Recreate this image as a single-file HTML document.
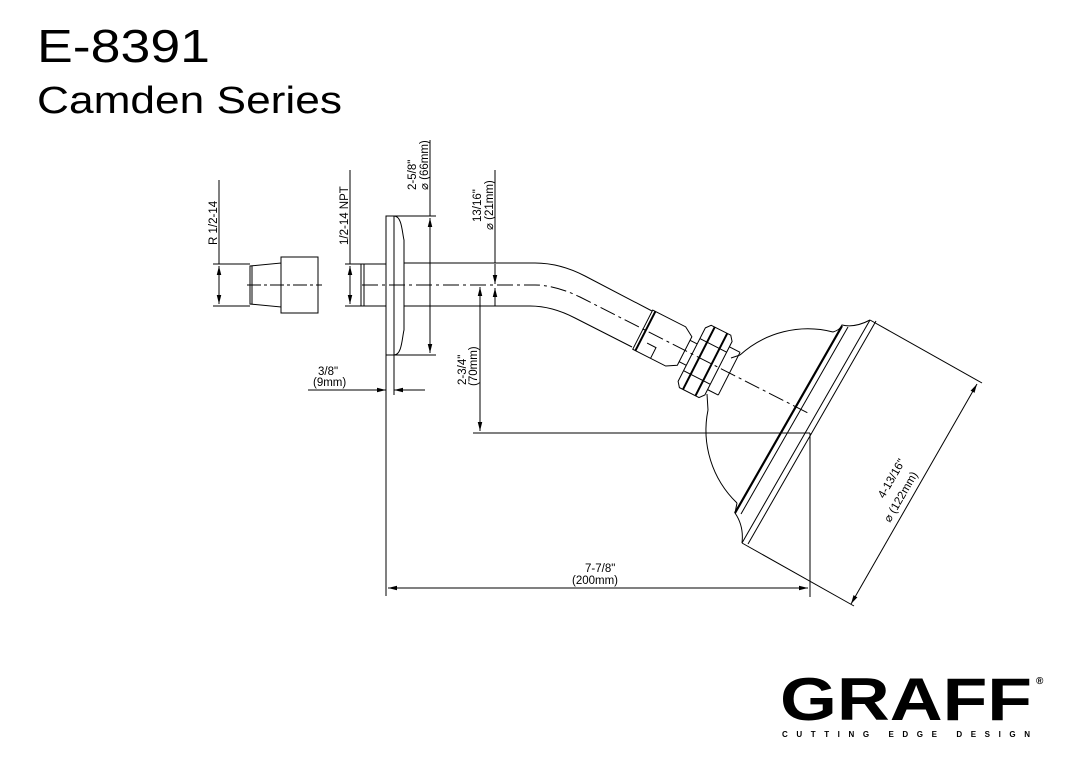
<!DOCTYPE html>
<html><head><meta charset="utf-8"><style>
html,body{margin:0;padding:0;background:#fff;}
svg{display:block;}
text{font-family:"Liberation Sans",sans-serif;fill:#000;}
</style></head><body>
<svg width="1075" height="761" viewBox="0 0 1075 761" xmlns="http://www.w3.org/2000/svg">
<defs>
<marker id="a" viewBox="0 0 10 10" refX="10" refY="5" markerWidth="9" markerHeight="9" orient="auto-start-reverse" markerUnits="userSpaceOnUse"><path d="M0,2.5 L10,5 L0,7.5z" fill="#000"/></marker>
</defs>
<text x="37" y="62" font-size="46" textLength="173" lengthAdjust="spacingAndGlyphs">E-8391</text>
<text x="37" y="113" font-size="38" textLength="305" lengthAdjust="spacingAndGlyphs">Camden Series</text>

<g stroke="#000" stroke-width="1" fill="none">
<line x1="213" y1="264" x2="250" y2="264"/><line x1="213" y1="306" x2="250" y2="306"/>
<line x1="219" y1="180" x2="219" y2="264"/>
<line x1="219" y1="266" x2="219" y2="304" marker-start="url(#a)" marker-end="url(#a)"/>
<path d="M250,266 L281,263 L281,307 L250,304 Z"/>
<line x1="252" y1="266" x2="252" y2="304"/>
<rect x="281" y="257" width="37" height="56"/>
<line x1="247" y1="285" x2="322" y2="285" stroke-dasharray="14,3,3,3"/>

<line x1="345" y1="264" x2="362" y2="264"/><line x1="345" y1="306" x2="362" y2="306"/>
<line x1="350" y1="170" x2="350" y2="264"/>
<line x1="350" y1="266" x2="350" y2="304" marker-start="url(#a)" marker-end="url(#a)"/>
<rect x="361" y="264" width="25" height="42"/>
<line x1="364" y1="264" x2="364" y2="306"/>
<rect x="386" y="216" width="8" height="139"/>
<path d="M394,216 C402,216 402,232 404,240 L404,330 C402,338 402,355 394,355"/>
<line x1="394" y1="216" x2="436" y2="216"/><line x1="394" y1="355" x2="436" y2="355"/>
<line x1="430" y1="140" x2="430" y2="216"/>
<line x1="430" y1="218" x2="430" y2="353" marker-start="url(#a)" marker-end="url(#a)"/>

<line x1="386" y1="355" x2="386" y2="596"/><line x1="394" y1="355" x2="394" y2="395"/>
<line x1="308" y1="390" x2="386" y2="390" marker-end="url(#a)"/>
<line x1="425" y1="390" x2="394" y2="390" marker-end="url(#a)"/>

<path d="M404,263 L535,263 Q560,263 585,276 L652,311"/>
<path d="M404,306 L530,306 Q552,306 575,318 L632,347"/>
<path d="M362,285 L535,285 Q555,285 580,297 L810,414" stroke-dasharray="16,4,3,4"/>

<line x1="495" y1="170" x2="495" y2="263"/>
<line x1="495" y1="264" x2="495" y2="284" marker-end="url(#a)"/>
<line x1="495" y1="288" x2="495" y2="306" marker-start="url(#a)"/>

<line x1="480" y1="287" x2="480" y2="431" marker-start="url(#a)" marker-end="url(#a)"/>
<line x1="473" y1="433" x2="810" y2="433"/>
<line x1="810" y1="433" x2="810" y2="597"/>

<line x1="388" y1="588" x2="808" y2="588" marker-start="url(#a)" marker-end="url(#a)"/>

<g transform="translate(665,341) rotate(27)">
<path d="M-25,-22 L12,-22 L22,-16 L22,16 L12,22 L-25,22 Z"/>
<line x1="-22" y1="-22" x2="-22" y2="22" stroke-width="2"/>
<path d="M-15,10 L-5,10 L-5,22"/>
<line x1="22" y1="-12" x2="30" y2="-12"/><line x1="22" y1="12" x2="30" y2="12"/>
<path d="M30,-30 L34,-35 L56,-35 L60,-30 L60,30 L56,35 L34,35 L30,30 Z"/>
<line x1="30" y1="-18" x2="60" y2="-18"/><line x1="30" y1="18" x2="60" y2="18"/>
<line x1="38" y1="-35" x2="38" y2="35" stroke-width="2"/>
<line x1="52" y1="-35" x2="52" y2="35" stroke-width="2"/>
<line x1="60" y1="-24" x2="72" y2="-24"/><line x1="60" y1="24" x2="72" y2="24"/>
<line x1="72" y1="-24" x2="72" y2="24"/>
</g>
<line x1="731" y1="358" x2="740" y2="355"/>
<line x1="707" y1="394" x2="708" y2="410"/>

<path d="M740,355 A101,101 0 0 1 833,332"/>
<path d="M708,410 A101,101 0 0 0 737,503"/>
<path d="M833,332 Q840,330 842,325 Q855,328 870,320"/>
<path d="M737,503 Q736,508 735,513 Q744,526 742,543"/>
<line x1="842" y1="326" x2="735" y2="513" stroke-width="2.2"/>
<line x1="848" y1="327" x2="741" y2="514"/>
<line x1="870" y1="320" x2="742" y2="543"/>
<line x1="876" y1="321" x2="748" y2="544"/>
<line x1="870" y1="320" x2="982" y2="383"/>
<line x1="742" y1="543" x2="854" y2="606"/>
<line x1="977" y1="384" x2="851" y2="604" marker-start="url(#a)" marker-end="url(#a)"/>
</g>

<g font-size="11.5">
<text transform="translate(217,245) rotate(-90)">R 1/2-14</text>
<text transform="translate(348,245) rotate(-90)">1/2-14 NPT</text>
<text transform="translate(416,190) rotate(-90)">2-5/8"</text>
<text transform="translate(428,190) rotate(-90)">⌀ (66mm)</text>
<text transform="translate(481,222) rotate(-90)">13/16"</text>
<text transform="translate(493,230) rotate(-90)">⌀ (21mm)</text>
<text transform="translate(466,385) rotate(-90)">2-3/4"</text>
<text transform="translate(477,386) rotate(-90)">(70mm)</text>
<text x="318" y="375">3/8"</text>
<text x="313" y="386">(9mm)</text>
<text x="585" y="572">7-7/8"</text>
<text x="572" y="584">(200mm)</text>
<text transform="translate(884,499) rotate(-60)">4-13/16"</text>
<text transform="translate(890,523) rotate(-60)">⌀ (122mm)</text>
</g>

<text x="780" y="720" font-size="60" font-weight="bold" textLength="252" lengthAdjust="spacingAndGlyphs">GRAFF</text>
<text x="1036" y="684" font-size="10" font-weight="bold">®</text>
<text x="782" y="737" font-size="8" font-weight="bold" textLength="248" lengthAdjust="spacing">CUTTING EDGE DESIGN</text>
</svg>
</body></html>
